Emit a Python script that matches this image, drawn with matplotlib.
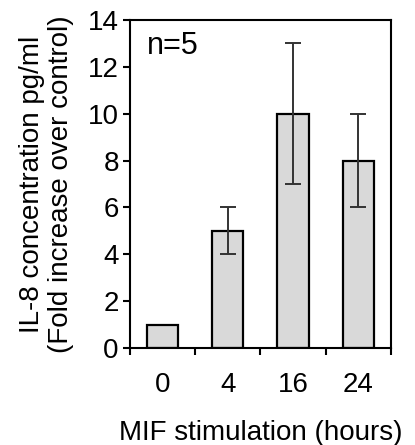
import numpy as np
from matplotlib import pyplot as plt

plt.rcParams['font.family'] = ['Liberation Sans', 'DejaVu Sans']

hours = ['0', '4', '16', '24']
fold = [1, 5, 10, 8]
err_low = [0, 4, 7, 6]
err_high = [0, 6, 13, 10]

fig = plt.figure(figsize=(4.15, 4.45), dpi=100)
ax = fig.add_axes([0.313, 0.218, 0.629, 0.737])

x = np.arange(len(hours)) + 0.5
ax.bar(x, fold, width=0.48, color='#d9d9d9', edgecolor='black', linewidth=1.6,
       zorder=2)

# error bars only where there is spread
lo = np.array(fold) - np.array(err_low)
hi = np.array(err_high) - np.array(fold)
idx = [i for i in range(len(fold)) if err_high[i] > 0]
ax.errorbar(x[idx], np.array(fold)[idx], yerr=[lo[idx], hi[idx]], fmt='none',
            ecolor='#333333', elinewidth=1.4, capsize=5.5, capthick=1.4,
            zorder=3)

ax.set_xlim(0, len(hours))
ax.set_ylim(0, 14)
ax.set_yticks(range(0, 15, 2))
ax.set_xticks(np.arange(len(hours) + 1))
ax.set_xticklabels([])
ax.set_xticks(x, minor=True)
ax.set_xticklabels(hours, minor=True)
ax.tick_params(axis='x', which='minor', length=0, pad=17, labelsize=20)
ax.tick_params(axis='x', which='major', length=5, width=1.5, direction='out')
ax.tick_params(axis='y', length=5, width=1.5, direction='out', labelsize=20,
               pad=3)
for s in ax.spines.values():
    s.set_linewidth(1.5)

ax.set_ylabel('IL-8 concentration pg/ml\n(Fold increase over control)',
              fontsize=20, linespacing=1.15, labelpad=10)
ax.set_xlabel('MIF stimulation (hours)', fontsize=20, labelpad=16)
ax.text(0.065, 0.92, 'n=5', transform=ax.transAxes, fontsize=22, va='center')

fig.savefig('out.png', dpi=100)
